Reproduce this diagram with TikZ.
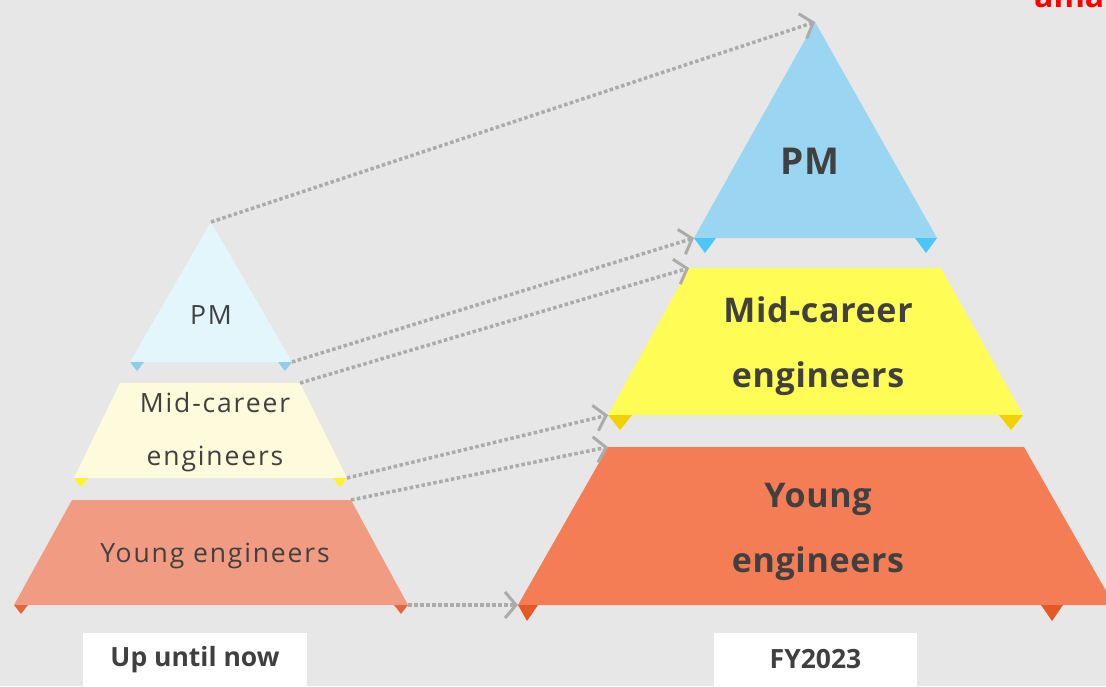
\documentclass[tikz,border=0pt]{standalone}
\usepackage{fontspec}
\setmainfont{Open Sans}
\newfontfamily\lightsp[LetterSpace=7]{Open Sans}
\newfontfamily\boldsp[LetterSpace=2]{Open Sans}
\usetikzlibrary{arrows.meta}
\definecolor{bgc}{HTML}{E7E7E7}
\definecolor{txc}{HTML}{404040}
\definecolor{lpm}{HTML}{E3F6FC}\definecolor{lpmt}{HTML}{8DCFEB}
\definecolor{lmid}{HTML}{FEFBDD}\definecolor{lmidt}{HTML}{FFF22A}
\definecolor{lyo}{HTML}{F19C82}\definecolor{lyot}{HTML}{E2673F}
\definecolor{rpm}{HTML}{9AD6F1}\definecolor{rpmt}{HTML}{4DC5F7}
\definecolor{rmid}{HTML}{FFFC55}\definecolor{rmidt}{HTML}{F2D100}
\definecolor{ryo}{HTML}{F47D55}\definecolor{ryot}{HTML}{E35A27}
\definecolor{arc}{HTML}{ABABAB}
\tikzset{
  lighttext/.style={text=txc,font=\lightsp\fontsize{26.5}{53}\selectfont,align=center},
  boldtext/.style={text=txc,font=\boldsp\bfseries\fontsize{34}{65}\selectfont,align=center},
  labelbox/.style={fill=white,text=txc,font=\bfseries\fontsize{26.5}{30}\selectfont},
  moveline/.style={draw=arc,line width=3.5pt,dash pattern=on 3.5pt off 2.5pt,
    -{Straight Barb[length=11pt,width=26pt,line width=3pt]}},
}
\begin{document}
\begin{tikzpicture}[x=1pt,y=-1pt]
\useasboundingbox (0,0) rectangle (1106,686);
\fill[bgc] (0,0) rectangle (1106,686);
% ---- coordinates: left pyramid
\coordinate (lpmA) at (211,222); \coordinate (lpmL) at (130,362); \coordinate (lpmR) at (292,362);
\coordinate (lmidTL) at (120,383); \coordinate (lmidTR) at (300,383);
\coordinate (lmidBL) at (74,478); \coordinate (lmidBR) at (347,478);
\coordinate (lyTL) at (72,500); \coordinate (lyTR) at (351,500);
\coordinate (lyBL) at (14,605); \coordinate (lyBR) at (408,605);
% ---- coordinates: right pyramid
\coordinate (rpmA) at (815,22); \coordinate (rpmL) at (694,238); \coordinate (rpmR) at (937,238);
\coordinate (rmidTL) at (689,268); \coordinate (rmidTR) at (941,268);
\coordinate (rmidBL) at (608,415); \coordinate (rmidBR) at (1023,415);
\coordinate (ryTL) at (608,447); \coordinate (ryTR) at (1024,447);
\coordinate (ryBL) at (518,605); \coordinate (ryBR) at (1114,605);
% ---- left shapes
\fill[lpm] (lpmA) -- (lpmR) -- (lpmL) -- cycle;
\fill[lpmt] (130,362) -- (144,362) -- (137,371) -- cycle;
\fill[lpmt] (278,362) -- (292,362) -- (285,371) -- cycle;
\fill[lmid] (lmidTL) -- (lmidTR) -- (lmidBR) -- (lmidBL) -- cycle;
\fill[lmidt] (74,478) -- (88,478) -- (81,487) -- cycle;
\fill[lmidt] (333,478) -- (347,478) -- (340,487) -- cycle;
\fill[lyo] (lyTL) -- (lyTR) -- (lyBR) -- (lyBL) -- cycle;
\fill[lyot] (14,605) -- (28,605) -- (21,614) -- cycle;
\fill[lyot] (394,605) -- (408,605) -- (401,614) -- cycle;
% ---- right shapes
\fill[rpm] (rpmA) -- (rpmR) -- (rpmL) -- cycle;
\fill[rpmt] (694,238) -- (716,238) -- (705,253) -- cycle;
\fill[rpmt] (915,238) -- (937,238) -- (926,253) -- cycle;
\fill[rmid] (rmidTL) -- (rmidTR) -- (rmidBR) -- (rmidBL) -- cycle;
\fill[rmidt] (608,415) -- (632,415) -- (620,430) -- cycle;
\fill[rmidt] (999,415) -- (1023,415) -- (1011,430) -- cycle;
\fill[ryo] (ryTL) -- (ryTR) -- (ryBR) -- (ryBL) -- cycle;
\fill[ryot] (518,605) -- (538,605) -- (527,621) -- cycle;
\fill[ryot] (1041,605) -- (1063,605) -- (1052,621) -- cycle;
% ---- texts
\node[lighttext] (lpmT) at (211,315) {PM};
\node[lighttext] (lmidT) at (215,432) {Mid-career\\engineers};
\node[lighttext] (lyT) at (215,556) {Young engineers};
\node[boldtext,font=\boldsp\bfseries\fontsize{37}{65}\selectfont] (rpmT) at (810,161) {PM};
\node[boldtext] (rmidT) at (818,346) {Mid-career\\engineers};
\node[boldtext] (ryT) at (818,532) {Young\\engineers};
\node[labelbox,minimum width=224pt,minimum height=53pt] (lab1) at (195,659.5) {Up until now};
\node[labelbox,minimum width=203pt,minimum height=53pt] (lab2) at (815.5,659.5) {FY2023};
\node[anchor=base west,text=red,font=\bfseries\fontsize{32}{32}\selectfont,inner sep=0pt] (redt) at (1034,7) {ama};
% ---- connectors
\draw[moveline] (lpmA) -- (rpmA);
\draw[moveline] (lpmR) -- (rpmL);
\draw[moveline] (lmidTR) -- (rmidTL);
\draw[moveline] (lmidBR) -- (rmidBL);
\draw[moveline] (lyTR) -- (ryTL);
\draw[moveline] (lyBR) -- (ryBL);
\end{tikzpicture}
\end{document}
